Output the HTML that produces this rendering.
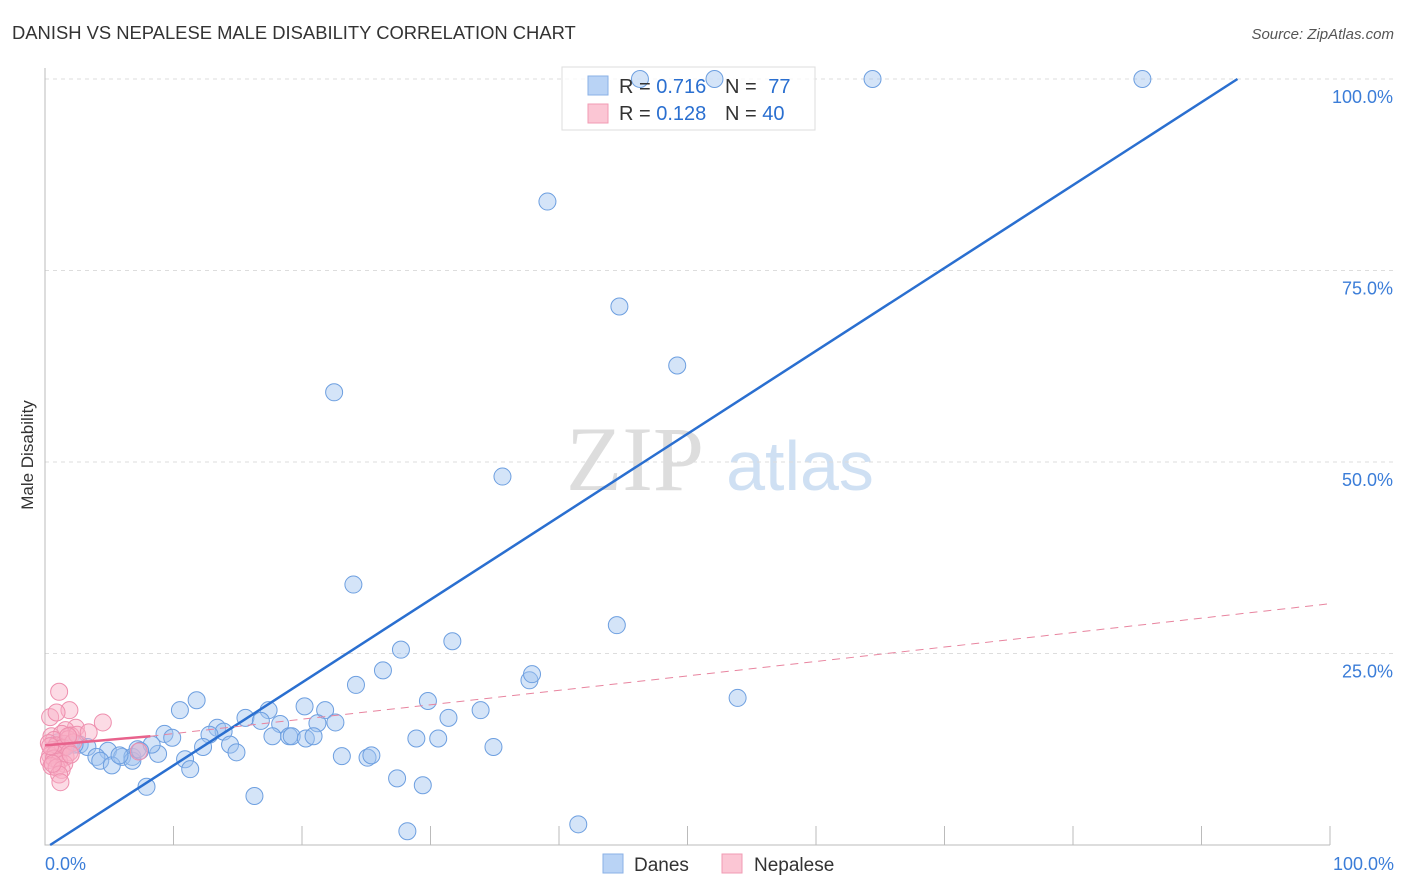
<!DOCTYPE html>
<html><head><meta charset="utf-8"><style>
body{margin:0;background:#fff;font-family:"Liberation Sans",sans-serif}
svg{display:block}
</style></head><body>
<svg id="chart" width="1406" height="892" xmlns="http://www.w3.org/2000/svg">
<text x="12" y="39" font-size="18.4" fill="#333">DANISH VS NEPALESE MALE DISABILITY CORRELATION CHART</text>
<text x="1394" y="39" font-size="15" fill="#555" font-style="italic" text-anchor="end">Source: ZipAtlas.com</text>
<text x="33" y="455" font-size="17" fill="#333" text-anchor="middle" transform="rotate(-90 33 455)">Male Disability</text>
<g>
<text x="635" y="490" font-size="92" fill="#ddd" text-anchor="middle" font-family="Liberation Serif,serif">ZIP</text>
<text x="800" y="490" font-size="70" fill="#cfe0f3" text-anchor="middle">atlas</text>
</g>
<g id="grid"></g><g id="axes"></g>
<g>
<rect x="562" y="67" width="253" height="63" fill="rgba(255,255,255,0.75)" stroke="#ddd"/>
<rect x="588" y="76" width="20" height="19" fill="#b9d3f5" stroke="#8ab0e6"/>
<rect x="588" y="104" width="20" height="19" fill="#fbc6d4" stroke="#f29bb3"/>
</g>
<g id="pts"></g><g id="lines"></g>
<g>
<text x="619" y="93" font-size="20" fill="#333">R = <tspan fill="#2a6fd0">0.716</tspan></text>
<text x="725" y="93" font-size="20" fill="#333">N = <tspan fill="#2a6fd0" dx="6">77</tspan></text>
<text x="619" y="120" font-size="20" fill="#333">R = <tspan fill="#2a6fd0">0.128</tspan></text>
<text x="725" y="120" font-size="20" fill="#333">N = <tspan fill="#2a6fd0">40</tspan></text>
</g>
<g>
<rect x="603" y="854" width="20" height="19" fill="#b9d3f5" stroke="#8ab0e6"/>
<text x="634" y="871" font-size="19" fill="#333">Danes</text>
<rect x="722" y="854" width="20" height="19" fill="#fbc6d4" stroke="#f29bb3"/>
<text x="754" y="871" font-size="19" fill="#333">Nepalese</text>
</g>
</svg>
<script>
const yTicks=[25,50,75,100];
const yTickLabels=["25.0%","50.0%","75.0%","100.0%"];
const xLabels=["0.0%","100.0%"];
const danesX=[46.3,52.1,64.4,85.4,39.1,44.7,49.2,22.5,35.6,24,44.5,31.7,27.7,26.3,24.2,37.7,37.9,53.9,11.8,10.5,17.4,20.2,21.8,29.8,33.9,15.6,16.8,18.3,21.2,22.6,31.4,9.3,13.4,13.9,12.8,17.7,19,19.2,20.3,20.9,28.9,30.6,12.3,14.4,14.9,34.9,1.9,2.7,3.3,4.9,6,6.8,4,4.3,5.2,6.8,8.8,10.9,11.3,7.2,8.3,23.1,25.1,25.4,27.4,29.4,7.9,16.3,28.2,41.5,1.3,1,2.3,9.9,7.4,5.8,1.6];
const danesY=[100,100,100,100,84,70.3,62.6,59.1,48.1,34,28.7,26.6,25.5,22.8,20.9,21.5,22.3,19.2,18.9,17.6,17.6,18.1,17.6,18.8,17.6,16.6,16.2,15.8,15.9,16,16.6,14.5,15.3,14.8,14.4,14.2,14.2,14.2,13.9,14.2,13.9,13.9,12.8,13.1,12.1,12.8,13.1,13.1,12.8,12.3,11.5,11.5,11.5,11,10.4,11,11.9,11.2,9.9,12.5,13.1,11.6,11.4,11.7,8.7,7.8,7.6,6.4,1.8,2.7,12.5,13.4,13.1,14,12.3,11.7,12.8];
const nepX=[1.1,1.9,2.4,4.5,0.4,0.9,1.6,2,0.5,1.3,0.7,1.5,1.8,0.3,0.9,1.2,0.6,1,1.4,2.2,0.4,0.8,1.6,1.9,0.3,0.7,1.1,1.5,2,2.5,0.5,0.9,1.3,1.1,0.6,1.2,1.8,7.3,0.4,3.4];
const nepY=[20,17.6,15.3,16,16.7,17.3,15,14.3,14.2,14.5,13.7,13.2,13.8,13.3,13,12.6,12.4,12.2,12.7,13.4,11.7,11.9,11.5,12.1,11.1,11.3,10.9,10.6,11.8,14.4,10.3,10.1,9.8,9.2,10.6,8.2,14.2,12.2,12.9,14.7];
const blueFit=[[0.4,0],[92.8,100]];
const pinkFit=[[0,13],[8.2,14.2],[100,31.5]];
const NS="http://www.w3.org/2000/svg";
const X=v=>45+v*12.85, Y=v=>845-v*7.66;
function mk(t,a,p){const e=document.createElementNS(NS,t);for(const k in a)e.setAttribute(k,a[k]);p.appendChild(e);return e;}
const grid=document.getElementById('grid'),axes=document.getElementById('axes'),pts=document.getElementById('pts'),lines=document.getElementById('lines');
yTicks.forEach((t,i)=>{
 const l=mk('line',{x1:45,x2:1394,y1:Y(t),y2:Y(t),stroke:'#ddd','stroke-dasharray':'4,4'},grid);
 
 
 const tx=mk('text',{x:1393,y:Y(t)+24,'font-size':18,fill:'#3b7dd8','text-anchor':'end'},axes);
 tx.textContent=yTickLabels[i];
 
 
});
const ax=mk('path',{d:'M45,68V845H1330',stroke:'#bbb',fill:'none'},axes);


for(let i=1;i<=10;i++){const t=mk('line',{x1:X(i*10),x2:X(i*10),y1:826,y2:845,stroke:'#bbb'},axes);
 
 }
[[0,'start',45],[100,'end',1394]].forEach((d,i)=>{const t=mk('text',{x:d[2],y:870,'font-size':18,fill:'#3b7dd8','text-anchor':d[1]},axes);t.textContent=xLabels[i];
 
 });
danesX.forEach((v,i)=>{const c=mk('circle',{cx:X(v),cy:Y(danesY[i]),r:8.5,fill:'rgba(160,196,240,0.45)',stroke:'#6d9fe0','stroke-width':1},pts);
 
 });
nepX.forEach((v,i)=>{const c=mk('circle',{cx:X(v),cy:Y(nepY[i]),r:8.5,fill:'rgba(248,176,198,0.45)',stroke:'#ee8fae','stroke-width':1},pts);
 
 });
const bl=mk('line',{x1:X(blueFit[0][0]),y1:Y(blueFit[0][1]),x2:X(blueFit[1][0]),y2:Y(blueFit[1][1]),stroke:'#2a6fd0','stroke-width':2.5},lines);


const ps=mk('line',{x1:X(pinkFit[0][0]),y1:Y(pinkFit[0][1]),x2:X(pinkFit[1][0]),y2:Y(pinkFit[1][1]),stroke:'#e8628c','stroke-width':2.5},lines);


const pd=mk('line',{x1:X(pinkFit[1][0]),y1:Y(pinkFit[1][1]),x2:X(pinkFit[2][0]),y2:Y(pinkFit[2][1]),stroke:'#e8849f','stroke-width':1,'stroke-dasharray':'8,6'},lines);


</script>
</body></html>
